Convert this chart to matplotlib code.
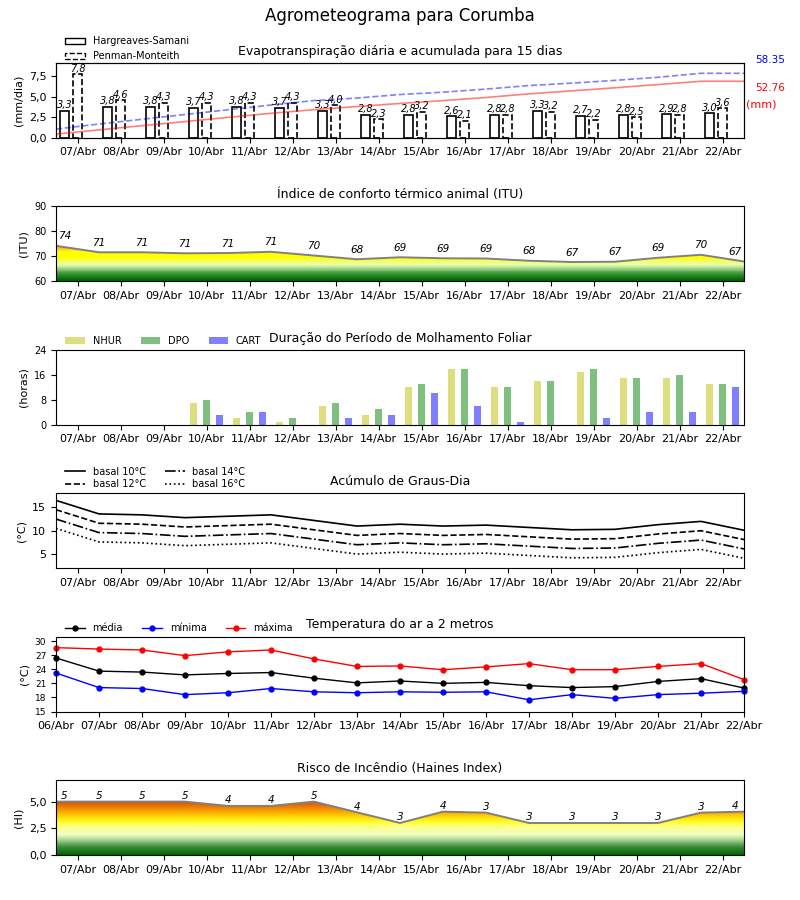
import numpy as np
import matplotlib
matplotlib.use("Agg")
import matplotlib.pyplot as plt
from matplotlib.colors import LinearSegmentedColormap
from matplotlib.patches import Patch, Polygon
from matplotlib.ticker import FuncFormatter

# --- data ---
DAY_LABELS = ["07/Abr", "08/Abr", "09/Abr", "10/Abr", "11/Abr", "12/Abr", "13/Abr", "14/Abr",
              "15/Abr", "16/Abr", "17/Abr", "18/Abr", "19/Abr", "20/Abr", "21/Abr", "22/Abr"]
TEMP_LABELS = ["06/Abr"] + DAY_LABELS

# evapotranspiration (mm/dia)
et_hs = [3.3, 3.8, 3.8, 3.7, 3.8, 3.7, 3.3, 2.8, 2.8, 2.6, 2.8, 3.3, 2.7, 2.8, 2.9, 3.0]
et_pm = [7.8, 4.6, 4.3, 4.3, 4.3, 4.3, 4.0, 2.3, 3.2, 2.1, 2.8, 3.2, 2.2, 2.5, 2.8, 3.6]
total_hs = 52.76
total_pm = 58.35

# thermal comfort index
itu = [74.2, 71.6, 71.6, 71.2, 71.3, 71.8, 70.3, 68.8, 69.6, 69.2, 69.1, 68.2, 67.7, 67.8, 69.4, 70.6, 67.9]

# leaf wetness duration (hours)
nhur = [0, 0, 0, 7, 2, 1, 6, 3, 12, 18, 12, 14, 17, 15, 15, 13]
dpo = [0, 0, 0, 8, 4, 2, 7, 5, 13, 18, 12, 14, 18, 15, 16, 13]
cart = [0, 0, 0, 3, 4, 0, 2, 3, 10, 6, 1, 0, 2, 4, 4, 12]

# degree days
gd10 = [16.5, 13.6, 13.4, 12.8, 13.1, 13.4, 12.2, 11.0, 11.4, 11.0, 11.2, 10.7, 10.2, 10.3, 11.3, 12.0, 10.1]
gd12 = [14.5, 11.6, 11.4, 10.8, 11.1, 11.4, 10.2, 9.0, 9.4, 9.0, 9.2, 8.7, 8.2, 8.3, 9.3, 10.0, 8.1]
gd14 = [12.5, 9.6, 9.4, 8.8, 9.1, 9.4, 8.2, 7.0, 7.4, 7.0, 7.2, 6.7, 6.2, 6.3, 7.3, 8.0, 6.1]
gd16 = [10.5, 7.6, 7.4, 6.8, 7.1, 7.4, 6.2, 5.0, 5.4, 5.0, 5.2, 4.7, 4.2, 4.3, 5.3, 6.0, 4.1]

# air temperature at 2 m
t_med = [26.4, 23.6, 23.4, 22.8, 23.1, 23.3, 22.1, 21.1, 21.5, 21.0, 21.2, 20.5, 20.1, 20.3, 21.4, 22.0, 20.0]
t_min = [23.2, 20.1, 19.9, 18.6, 19.0, 19.9, 19.2, 19.0, 19.2, 19.1, 19.2, 17.5, 18.6, 17.8, 18.6, 18.9, 19.3]
t_max = [28.6, 28.3, 28.1, 26.9, 27.7, 28.1, 26.2, 24.6, 24.7, 23.9, 24.5, 25.2, 23.9, 23.9, 24.6, 25.2, 21.8]

# Haines index
haines = [5.0, 5.0, 5.0, 5.0, 4.6, 4.6, 5.0, 4.0, 3.0, 4.06, 3.97, 3.0, 3.0, 3.0, 3.0, 3.97, 4.06]

comma1 = FuncFormatter(lambda v, p: f"{v:.1f}".replace(".", ","))

itu_cmap = LinearSegmentedColormap.from_list("itu", [
    (0.0, "#006400"), (0.19, "#3c9a3c"), (0.31, "#a8d890"), (0.40, "#e8ffb0"),
    (0.50, "#f4ff60"), (0.59, "#ffff00"), (0.75, "#ffff00"), (0.82, "#ffc020"), (1.0, "#f0a020")], N=28)
hi_cmap = LinearSegmentedColormap.from_list("hi", [
    (0.0, "#006400"), (0.15, "#3a8a3a"), (0.30, "#b8e0a0"), (0.38, "#f0ffc0"),
    (0.52, "#ffff90"), (0.62, "#ffff20"), (0.72, "#ffd000"), (0.82, "#f8a000"),
    (0.92, "#e87000"), (1.0, "#d05000")])


def gradient_area(ax, values, cmap, vmin, vmax, lift):
    xs = np.arange(len(values))
    verts = [(xs[0], vmin)] + list(zip(xs, values)) + [(xs[-1], vmin)]
    clip = Polygon(verts, closed=True, facecolor="none", edgecolor="none")
    ax.add_patch(clip)
    grad = np.linspace(vmin, vmax, 256).reshape(-1, 1)
    im = ax.imshow(grad, cmap=cmap, origin="lower", aspect="auto",
                   extent=(xs[0], xs[-1], vmin, vmax), zorder=1)
    im.set_clip_path(clip)
    ax.plot(xs, values, color="gray", lw=1.4, zorder=2)
    last = len(values) - 1
    for i, (x, v) in enumerate(zip(xs, values)):
        shift = 0.2 if i == 0 else (-0.2 if i == last else 0)
        ax.text(x + shift, v + lift, str(int(v)), ha="center", va="bottom",
                fontsize=7.5, style="italic", zorder=3)


def day_axis(ax):
    ax.set_xlim(0, 16)
    ax.set_xticks(np.arange(16) + 0.5)
    ax.set_xticklabels(DAY_LABELS, fontsize=8)


fig, axes = plt.subplots(6, 1, figsize=(8, 9), dpi=100)
plt.subplots_adjust(left=0.07, right=0.93, top=0.93, bottom=0.05, hspace=0.92)
fig.suptitle("Agrometeograma para Corumba", fontsize=12, y=0.992)

# --- evapotranspiration ---
ax = axes[0]
k = np.arange(16)
ax.bar(k + 0.2, et_hs, width=0.2, facecolor="white", edgecolor="black", lw=1.2, zorder=2)
ax.bar(k + 0.5, et_pm, width=0.2, facecolor="white", edgecolor="black", lw=1.2, ls="--", zorder=2)
for x, v in zip(k, et_hs):
    ax.text(x + 0.2, v + 0.05, f"{v:.1f}".replace(".", ","), ha="center", va="bottom", fontsize=7, style="italic")
for x, v in zip(k, et_pm):
    ax.text(x + 0.5, v + 0.05, f"{v:.1f}".replace(".", ","), ha="center", va="bottom", fontsize=7, style="italic")
ax.set_ylim(0, 9.15)
ax.set_yticks([0, 2.5, 5.0, 7.5])
ax.yaxis.set_major_formatter(comma1)
ax.tick_params(axis="y", labelsize=8)
ax.set_ylabel("(mm/dia)", fontsize=8)
day_axis(ax)
ax.set_title("Evapotranspiração diária e acumulada para 15 dias", fontsize=9)
tw = ax.twinx()
cum_hs = list(np.cumsum(et_hs)) + [np.sum(et_hs)]
cum_pm = list(np.cumsum(et_pm)) + [np.sum(et_pm)]
tw.plot(np.arange(17), cum_hs, color="red", alpha=0.5, lw=1.2)
tw.plot(np.arange(17), cum_pm, color="blue", alpha=0.5, lw=1.2, ls="--")
tw.set_ylim(0, total_pm / 0.863)
tw.set_yticks([])
ax.text(1.016, 1.04, f"{total_pm:.2f}", color="blue", fontsize=7.5, transform=ax.transAxes, va="center")
ax.text(1.016, 0.667, f"{total_hs:.2f}", color="red", fontsize=7.5, transform=ax.transAxes, va="center")
ax.text(1.003, 0.44, "(mm)", color="red", fontsize=8, transform=ax.transAxes, va="center")
ax.legend(handles=[Patch(facecolor="white", edgecolor="black", label="Hargreaves-Samani"),
                   Patch(facecolor="white", edgecolor="black", ls="--", label="Penman-Monteith")],
          loc="lower left", bbox_to_anchor=(0.008, 0.97), frameon=False, fontsize=7, borderaxespad=0)

# --- ITU ---
ax = axes[1]
gradient_area(ax, itu, itu_cmap, 60, 76, 1.8)
ax.set_ylim(60, 90)
ax.set_yticks([60, 70, 80, 90])
ax.tick_params(axis="y", labelsize=7)
ax.set_ylabel("(ITU)", fontsize=8)
day_axis(ax)
ax.set_title("Índice de conforto térmico animal (ITU)", fontsize=9)

# --- leaf wetness ---
ax = axes[2]
ax.bar(k + 0.2, nhur, width=0.16, color="y", alpha=0.5, label="NHUR")
ax.bar(k + 0.5, dpo, width=0.16, color="g", alpha=0.5, label="DPO")
ax.bar(k + 0.8, cart, width=0.16, color="b", alpha=0.5, label="CART")
ax.set_ylim(0, 24)
ax.set_yticks([0, 8, 16, 24])
ax.tick_params(axis="y", labelsize=7)
ax.set_ylabel("(horas)", fontsize=8)
day_axis(ax)
ax.set_title("Duração do Período de Molhamento Foliar", fontsize=9)
ax.legend(loc="lower left", bbox_to_anchor=(0.008, 1.0), ncol=3, frameon=False, fontsize=7, borderaxespad=0)

# --- degree days ---
ax = axes[3]
x17 = np.arange(17)
ax.plot(x17, gd10, color="black", lw=1.2, ls="-", label="basal 10°C")
ax.plot(x17, gd12, color="black", lw=1.2, ls="--", label="basal 12°C")
ax.plot(x17, gd14, color="black", lw=1.2, ls="-.", label="basal 14°C")
ax.plot(x17, gd16, color="black", lw=1.2, ls=":", label="basal 16°C")
ax.set_ylim(2, 18)
ax.set_yticks([5, 10, 15])
ax.tick_params(axis="y", labelsize=8)
ax.set_ylabel("(°C)", fontsize=8)
day_axis(ax)
ax.set_title("Acúmulo de Graus-Dia", fontsize=9)
ax.legend(loc="lower left", bbox_to_anchor=(0.008, 1.0), ncol=2, frameon=False, fontsize=7,
          borderaxespad=0, labelspacing=0.3)

# --- temperature ---
ax = axes[4]
ax.plot(x17, t_med, color="black", lw=1, marker="o", ms=3.5, label="média")
ax.plot(x17, t_min, color="blue", lw=1, marker="o", ms=3.5, label="mínima")
ax.plot(x17, t_max, color="red", lw=1, marker="o", ms=3.5, label="máxima")
ax.set_xlim(0, 16)
ax.set_xticks(x17)
ax.set_xticklabels(TEMP_LABELS, fontsize=8)
ax.set_ylim(15, 30.9)
ax.set_yticks([15, 18, 21, 24, 27, 30])
ax.tick_params(axis="y", labelsize=6.5)
ax.set_ylabel("(°C)", fontsize=8)
ax.set_title("Temperatura do ar a 2 metros", fontsize=9)
ax.legend(loc="lower left", bbox_to_anchor=(0.008, 1.0), ncol=3, frameon=False, fontsize=7, borderaxespad=0)
for ln in ax.lines:
    ln.set_clip_on(False)

# --- Haines ---
ax = axes[5]
gradient_area(ax, haines, hi_cmap, 0, 5, 0.05)
ax.set_ylim(0, 7)
ax.set_yticks([0, 2.5, 5.0])
ax.yaxis.set_major_formatter(comma1)
ax.tick_params(axis="y", labelsize=8)
ax.set_ylabel("(HI)", fontsize=8)
day_axis(ax)
ax.set_title("Risco de Incêndio (Haines Index)", fontsize=9)

fig.savefig("out.png", dpi=100)
